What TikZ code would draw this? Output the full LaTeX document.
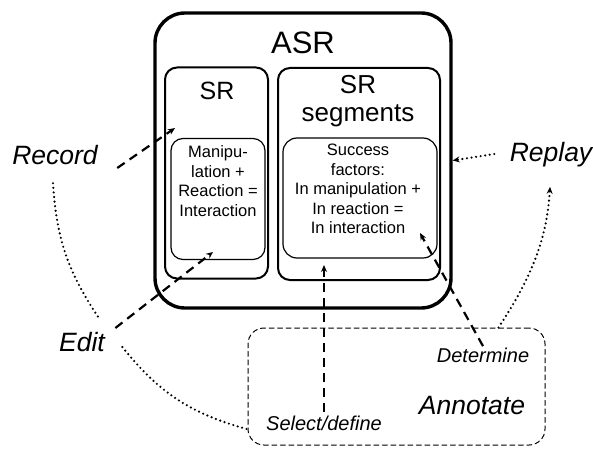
\documentclass[tikz,border=0pt]{standalone}
\usepackage{fontspec}
\setmainfont{Liberation Sans}
\usetikzlibrary{arrows.meta}

\begin{document}
\begin{tikzpicture}[x=1pt, y=-1pt, >={Stealth[length=7pt,width=6pt]},
    line cap=round, line join=round,
    kasten/.style={draw, rounded corners=#1, inner sep=0pt},
    gross/.style={font=\fontsize{26.5}{26.5}\selectfont\itshape},
    klein/.style={font=\fontsize{20}{20}\selectfont\itshape},
    inhalt/.style={align=center, font=\fontsize{16.5}{19.5}\selectfont},
    strich/.style={->, line width=2.2pt, line cap=butt, dash pattern=on 9pt off 6pt},
    punkte/.style={line width=2.4pt, line cap=round, dash pattern=on 0pt off 4.6pt}]

  \useasboundingbox (0,0) rectangle (593,449);

  % Kaesten
  \node[kasten=30pt, line width=3.4pt, minimum width=296pt, minimum height=295pt] (asr) at (303,160.5) {};
  \node[kasten=12pt, line width=2pt, minimum width=103pt, minimum height=211pt] (sr) at (216.5,173) {};
  \node[kasten=12pt, line width=2pt, minimum width=162pt, minimum height=212pt] (seg) at (359,174) {};
  \node[kasten=12pt, line width=1.2pt, minimum width=94pt, minimum height=121pt] (manip) at (218,199) {};
  \node[kasten=14pt, line width=1.2pt, minimum width=154pt, minimum height=120pt] (erfolg) at (360,198) {};
  \node[kasten=16pt, line width=1pt, dash pattern=on 5pt off 3.5pt, minimum width=297pt, minimum height=117pt] (annot) at (396.5,386.5) {};

  % Beschriftungen
  \node[font=\fontsize{31}{31}\selectfont] (asrtext) at (303,43) {ASR};
  \node[font=\fontsize{25}{25}\selectfont] (srtext) at (217,91) {SR};
  \node[align=center, font=\fontsize{26}{28}\selectfont] (segtext) at (358,101) {SR\\segments};
  \node[inhalt] (maniptext) at (218,181) {Manipu-\\lation +\\Reaction =\\Interaction};
  \node[inhalt] (erfolgtext) at (358,189) {Success\\factors:\\In manipulation +\\In reaction =\\In interaction};

  \node[gross] (record) at (55,155) {Record};
  \node[gross] (replay) at (551,155) {Replay};
  \node[gross] (edit) at (82,342) {Edit};
  \node[gross] (annotate) at (472,406) {Annotate};
  \node[klein] (determine) at (483,355) {Determine};
  \node[klein] (select) at (324,423) {Select/define};

  % Zielpunkte der Pfeile
  \coordinate (recin) at (175,128);
  \coordinate (editin) at (213,252);
  \coordinate (selin) at (324,265);
  \coordinate (detin) at (420,233);

  % gestrichelte Pfeile
  \draw[strich] ([shift={(16,13)}]record.east) -- (recin);
  \draw[strich] ([shift={(7,-14)}]edit.east) -- (editin);
  \draw[strich] (select.north) -- (selin);
  \draw[strich] ([shift={(0,2)}]determine.north) -- (detin);

  % gepunktete Verbindungen
  \draw[punkte, ->] (replay.west) ++(-12,-1) -- (asr.east);
  \draw[punkte] ([shift={(-2,15)}]record.south) to[bend right=15] ([shift={(16,-12)}]edit.north);
  \draw[punkte] ([shift={(14,5)}]edit.east) to[bend right=18] ([shift={(-16,6)}]select.west);
  \draw[punkte, ->, shorten >=16pt] ([xshift=-47pt]annot.north east) to[bend right=15] (replay.south);

\end{tikzpicture}
\end{document}
